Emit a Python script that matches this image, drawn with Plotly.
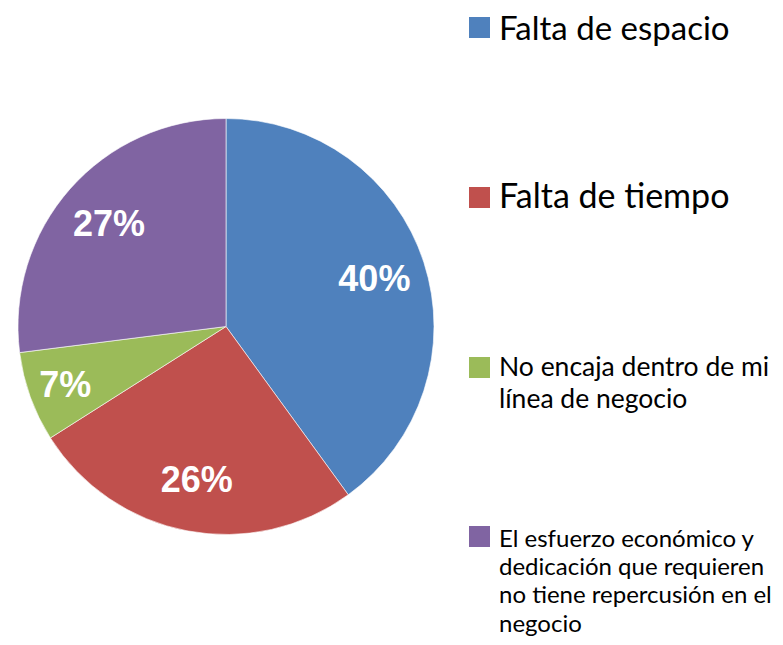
import plotly.graph_objects as go

# ---- data ----
categories = [
    "Falta de espacio",
    "Falta de tiempo",
    "No encaja dentro de mi línea de negocio",
    "El esfuerzo económico y dedicación que requieren no tiene repercusión en el negocio",
]
values = [40, 26, 7, 27]
colors = ["#4F81BD", "#C0504D", "#9BBB59", "#8064A2"]
legend_lines = [
    ["Falta de espacio"],
    ["Falta de tiempo"],
    ["No encaja dentro de mi", "línea de negocio"],
    ["El esfuerzo económico y", "dedicación que requieren", "no tiene repercusión en el", "negocio"],
]

# ---- layout constants (pixels, page coordinates) ----
OFF = 8  # page body margin
W, H = 783 - 2 * OFF, 645 - 2 * OFF
legend_baselines = [38.5, 207, 376, 546]
legend_sizes = [33, 34, 26.5, 24]
legend_spacing = [0, 0, 32, 28.3]
square_top = [17, 187, 357, 526]
sq = 21
sq_x0 = 469
text_x = 498


def px(x):
    return (x - OFF) / W


def py(y):
    return 1 - (y - OFF) / H


pie_domain = dict(x=[px(18), px(434)], y=[py(535), py(118)])

fig = go.Figure()
fig.add_trace(
    go.Pie(
        labels=categories,
        values=values,
        sort=False,
        direction="clockwise",
        rotation=0,
        marker=dict(colors=colors, line=dict(color="white", width=0.6)),
        textinfo="none",
        domain=pie_domain,
        showlegend=False,
        hoverinfo="label+percent",
    )
)
# transparent ring carrying the percentage labels (places them in the outer part of each slice)
fig.add_trace(
    go.Pie(
        labels=categories,
        values=values,
        sort=False,
        direction="clockwise",
        rotation=0,
        hole=0.5,
        marker=dict(colors=["rgba(0,0,0,0)"] * len(values), line=dict(width=0)),
        texttemplate="%{percent:.0%}",
        textposition="inside",
        insidetextorientation="horizontal",
        textfont=dict(family="Liberation Sans", size=36, color="white", weight="bold"),
        domain=pie_domain,
        showlegend=False,
        hoverinfo="skip",
    )
)

shapes = []
annotations = []
for i, lines in enumerate(legend_lines):
    y0 = square_top[i]
    shapes.append(
        dict(
            type="rect", xref="paper", yref="paper",
            x0=px(sq_x0), x1=px(sq_x0 + sq),
            y0=py(y0), y1=py(y0 + sq),
            fillcolor=colors[i], line=dict(width=0),
        )
    )
    for j, line in enumerate(lines):
        base = legend_baselines[i] + j * legend_spacing[i]
        cy = base - 0.36 * legend_sizes[i]
        annotations.append(
            dict(
                text=line, xref="paper", yref="paper",
                x=px(text_x), y=py(cy),
                xanchor="left", yanchor="middle", showarrow=False,
                borderpad=0,
                font=dict(family="Lato", size=legend_sizes[i], color="#000000"),
            )
        )

fig.update_layout(
    width=W, height=H,
    margin=dict(l=0, r=0, t=0, b=0),
    paper_bgcolor="white", plot_bgcolor="white",
    shapes=shapes, annotations=annotations,
)

fig.write_html("out.html")
